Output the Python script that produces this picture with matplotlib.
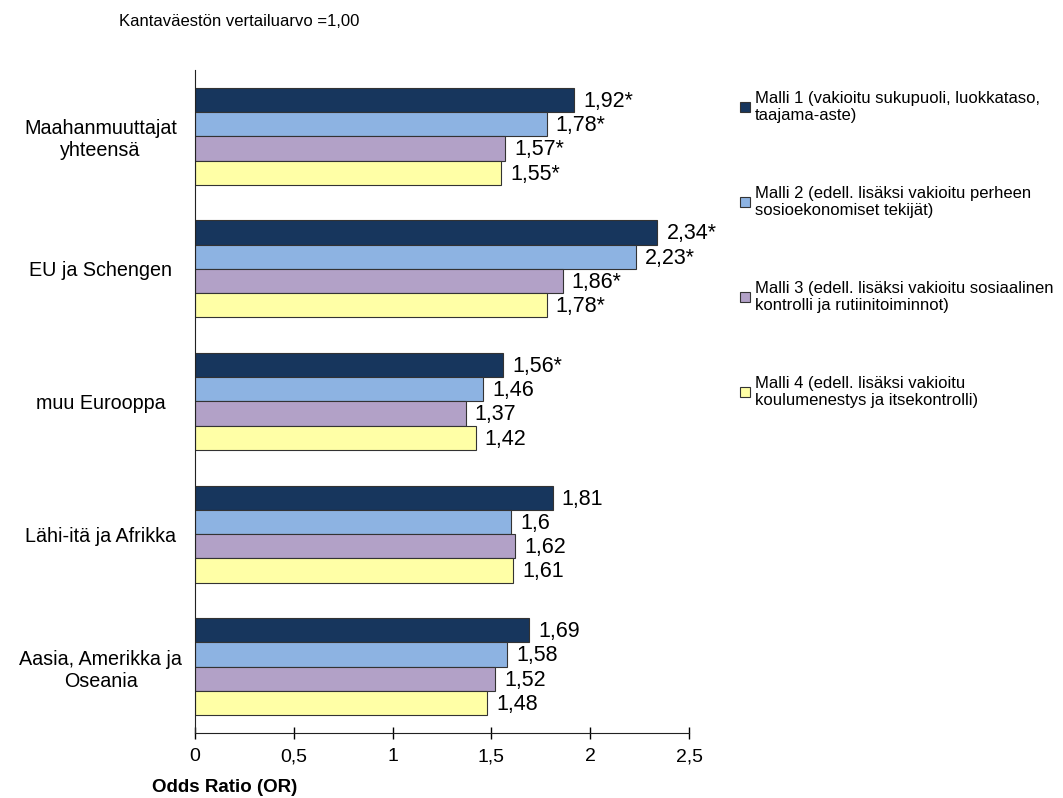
import matplotlib.pyplot as plt
import numpy as np

plt.rcParams['font.family'] = ['Liberation Sans', 'DejaVu Sans']

categories = ["Maahanmuuttajat\nyhteensä", "EU ja Schengen", "muu Eurooppa",
              "Lähi-itä ja Afrikka", "Aasia, Amerikka ja\nOseania"]
series_names = [
    "Malli 1 (vakioitu sukupuoli, luokkataso,\ntaajama-aste)",
    "Malli 2 (edell. lisäksi vakioitu perheen\nsosioekonomiset tekijät)",
    "Malli 3 (edell. lisäksi vakioitu sosiaalinen\nkontrolli ja rutiinitoiminnot)",
    "Malli 4 (edell. lisäksi vakioitu\nkoulumenestys ja itsekontrolli)",
]
malli1 = [1.92, 2.34, 1.56, 1.81, 1.69]
malli2 = [1.78, 2.23, 1.46, 1.60, 1.58]
malli3 = [1.57, 1.86, 1.37, 1.62, 1.52]
malli4 = [1.55, 1.78, 1.42, 1.61, 1.48]
labels1 = ["1,92*", "2,34*", "1,56*", "1,81", "1,69"]
labels2 = ["1,78*", "2,23*", "1,46", "1,6", "1,58"]
labels3 = ["1,57*", "1,86*", "1,37", "1,62", "1,52"]
labels4 = ["1,55*", "1,78*", "1,42", "1,61", "1,48"]
colors = ["#17365d", "#8db3e2", "#b2a1c7", "#ffffa6"]

fig = plt.figure(figsize=(10.63, 7.98), dpi=100)
ax = fig.add_axes([0.1834, 0.0815, 0.4648, 0.8308])

y = np.arange(len(categories))
h = 0.183
series = [malli1, malli2, malli3, malli4]
labels = [labels1, labels2, labels3, labels4]
handles = []
for i, (vals, labs) in enumerate(zip(series, labels)):
    pos = y + (i - 1.5) * h
    bars = ax.barh(pos, vals, height=h, color=colors[i], edgecolor="#333333",
                   linewidth=0.8, label=series_names[i])
    handles.append(bars)
    for p, v, t in zip(pos, vals, labs):
        ax.annotate(t, (v, p), xytext=(6.5, -1), textcoords="offset points",
                    ha="left", va="center", fontsize=15.5)

ax.set_xlim(0, 2.5)
ax.set_ylim(len(categories) - 0.5, -0.5)
ax.set_xticks([0, 0.5, 1, 1.5, 2, 2.5])
ax.set_xticklabels(["0", "0,5", "1", "1,5", "2", "2,5"], fontsize=14)
ax.tick_params(axis="x", direction="inout", length=8, width=1, pad=7)
ax.set_yticks(y)
ax.set_yticklabels(categories, fontsize=14.2, ha="center", multialignment="center")
ax.tick_params(axis="y", length=0, pad=68)
for s in ["top", "right"]:
    ax.spines[s].set_visible(False)
for s in ["left", "bottom"]:
    ax.spines[s].set_color("#222222")

fig.text(0.112, 0.983, "Kantaväestön vertailuarvo =1,00", fontsize=12, va="top")
fig.text(0.143, 0.003, "Odds Ratio (OR)", fontsize=13.5, fontweight="bold", va="bottom")

fig.legend(handles=handles, loc="upper left", bbox_to_anchor=(0.682, 0.905),
           frameon=False, fontsize=12, labelspacing=3.75, handlelength=0.6,
           handleheight=0.6, handletextpad=0.3, alignment="left")

fig.savefig("out.png", dpi=100)
